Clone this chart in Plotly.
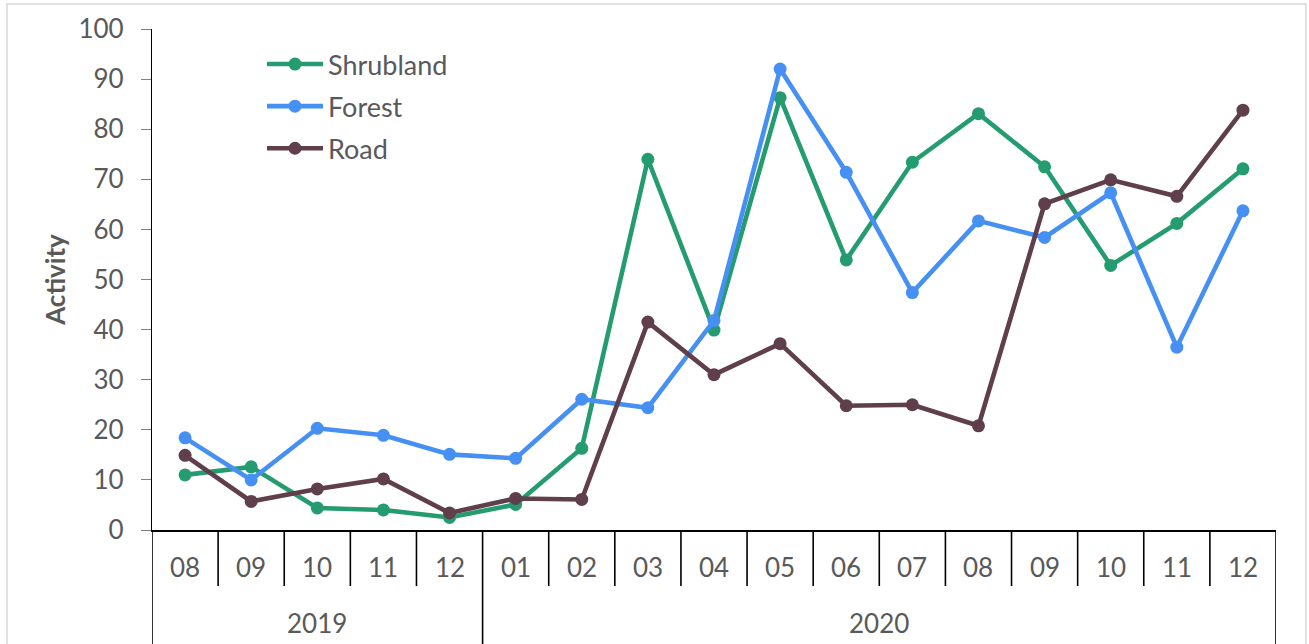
import plotly.graph_objects as go

# Monthly activity by habitat, Aug 2019 - Dec 2020
years = ["2019"] * 5 + ["2020"] * 12
months = ["08", "09", "10", "11", "12",
          "01", "02", "03", "04", "05", "06", "07", "08", "09", "10", "11", "12"]

shrubland = [11.0, 12.6, 4.4, 4.0, 2.5, 5.1, 16.3, 74.0, 39.9, 86.3,
             53.9, 73.4, 83.1, 72.5, 52.8, 61.2, 72.1]
forest = [18.4, 10.0, 20.3, 18.9, 15.1, 14.3, 26.1, 24.4, 41.8, 92.0,
          71.4, 47.4, 61.7, 58.4, 67.3, 36.5, 63.7]
road = [14.9, 5.7, 8.2, 10.2, 3.4, 6.3, 6.1, 41.5, 31.0, 37.2,
        24.8, 25.0, 20.8, 65.1, 69.9, 66.6, 83.8]

series = [("Shrubland", shrubland, "#249C70"),
          ("Forest", forest, "#4790F3"),
          ("Road", road, "#5F3F4B")]

FONT = "Lato"
TEXT = "#595959"

cats = [f"{y}-{m}" for y, m in zip(years, months)]

fig = go.Figure()
for i, (name, vals, col) in enumerate(series):
    fig.add_trace(go.Scatter(
        x=cats, y=vals, name=name, mode="lines+markers",
        line=dict(color=col, width=4.6),
        marker=dict(color=col, size=13),
        legendgroup=name,
    ))

shapes = []
annotations = []

# category boundary ticks below the axis; year boundaries run to the bottom
n = len(cats)
year_edges = {0, n}
for i in range(1, n):
    if years[i] != years[i - 1]:
        year_edges.add(i)
for b in range(n + 1):
    depth = -130 if b in year_edges else -56
    shapes.append(dict(
        type="line", xref="x", yref="paper",
        x0=b - 0.5, x1=b - 0.5,
        ysizemode="pixel", yanchor=0, y0=0, y1=depth,
        line=dict(color="black", width=1.6),
    ))

# month labels
for c, m in zip(cats, months):
    annotations.append(dict(
        x=c, xref="x", y=0, yref="paper", yanchor="middle",
        yshift=-37, text=m, showarrow=False,
        font=dict(family=FONT, size=26, color=TEXT),
    ))

# year labels centred under their months
edges = sorted(year_edges)
for a, b in zip(edges[:-1], edges[1:]):
    annotations.append(dict(
        x=(a + b - 1) / 2, xref="x", y=0, yref="paper", yanchor="middle",
        yshift=-93, text=years[a], showarrow=False,
        font=dict(family=FONT, size=26, color=TEXT),
    ))

# chart frame
shapes.append(dict(
    type="rect", xref="paper", yref="paper",
    x0=(7 - 152) / 1124, x1=(1306 - 152) / 1124,
    y0=-0.4, y1=1 + 25 / 501,
    line=dict(color="#D9D9D9", width=1.5), fillcolor="rgba(0,0,0,0)",
    layer="below",
))

fig.update_layout(
    width=1309, height=644,
    margin=dict(l=152, r=33, t=29, b=114),
    paper_bgcolor="white", plot_bgcolor="white",
    font=dict(family=FONT, color=TEXT),
    showlegend=True,
    legend=dict(
        x=(262 - 152) / 1124, y=1 - (40 - 29) / 501,
        xanchor="left", yanchor="top",
        font=dict(family=FONT, size=27, color=TEXT),
        itemwidth=56, tracegroupgap=4,
        bgcolor="rgba(0,0,0,0)",
    ),
    xaxis=dict(
        type="category", range=[-0.5, n - 0.5],
        showticklabels=False, ticks="", showgrid=False,
        showline=True, linecolor="black", linewidth=1.6,
        zeroline=False, fixedrange=True,
    ),
    yaxis=dict(
        range=[0, 100], tickmode="array",
        tickvals=list(range(0, 101, 10)),
        ticks="outside", ticklen=10, tickcolor="#7F7F7F", tickwidth=1.3,
        showgrid=False, zeroline=False,
        showline=True, linecolor="black", linewidth=1.3,
        tickfont=dict(family=FONT, size=26, color=TEXT),
        ticklabelstandoff=12,
        title=dict(text="<b>Activity</b>", standoff=5,
                   font=dict(family=FONT, size=26, color=TEXT)),
        fixedrange=True,
    ),
    shapes=shapes,
    annotations=annotations,
)

fig.write_html("out.html")
